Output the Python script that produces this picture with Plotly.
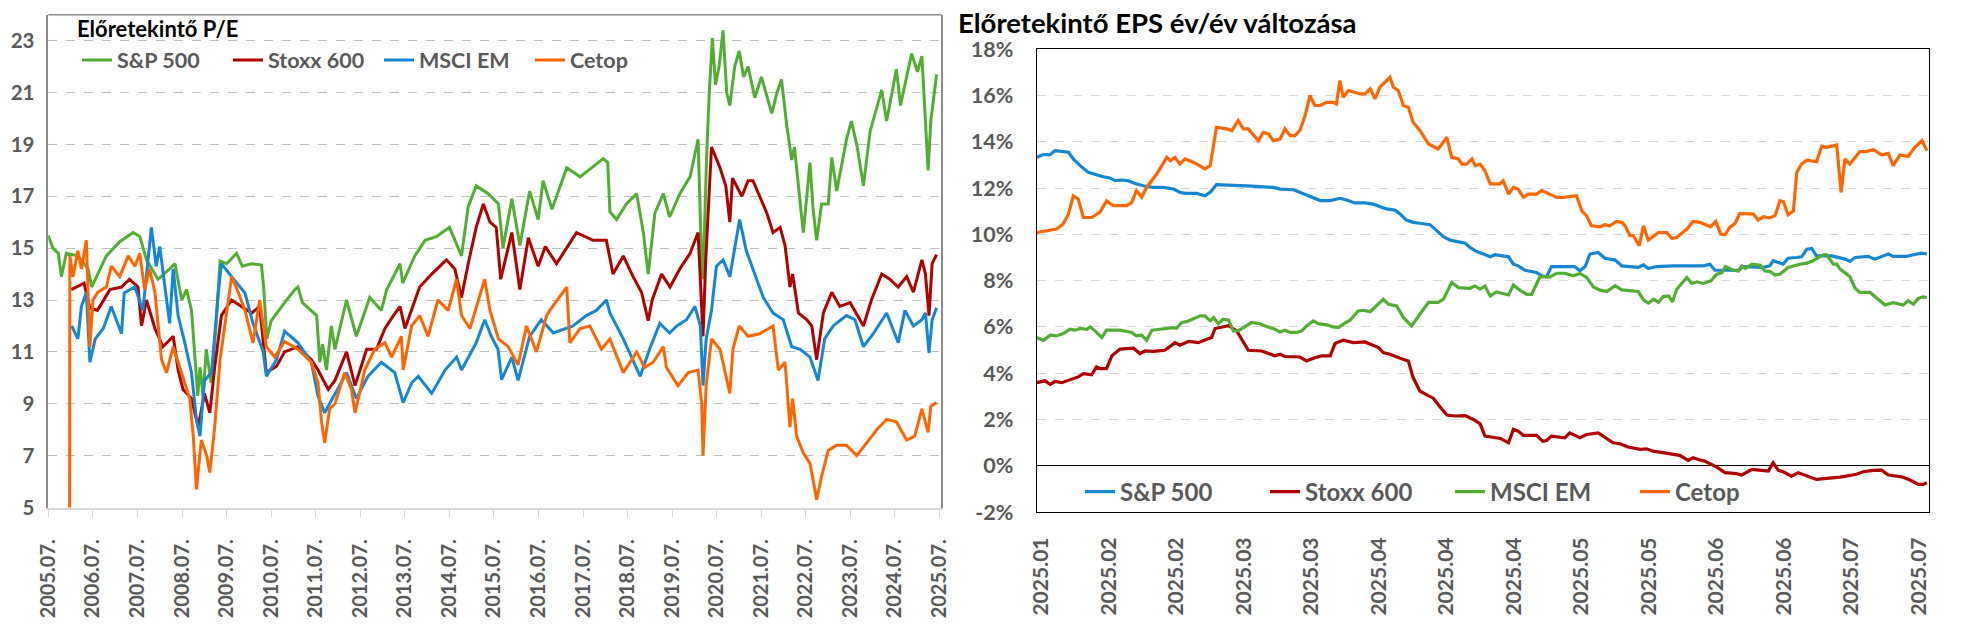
import plotly.graph_objects as go
from datetime import datetime, timedelta

# ---------------- Left chart: forward P/E (x = decimal year) ----------------
sp_pe_t = [2005.49, 2005.60, 2005.72, 2005.79, 2005.90, 2006.16, 2006.39, 2006.47, 2006.80, 2007.10, 2007.40, 2007.55,
           2007.70, 2007.96, 2008.22, 2008.34, 2008.49, 2008.60, 2008.71, 2008.78, 2008.85, 2008.90, 2008.97, 2009.04,
           2009.15, 2009.26, 2009.35, 2009.50, 2009.72, 2009.85, 2010.05, 2010.28, 2010.33, 2010.40, 2010.50, 2010.80,
           2011.03, 2011.10, 2011.20, 2011.52, 2011.59, 2011.65, 2011.74, 2011.85, 2011.93, 2012.19, 2012.41, 2012.71,
           2012.97, 2013.09, 2013.39, 2013.45, 2013.72, 2013.95, 2014.21, 2014.50, 2014.77, 2014.92, 2015.10, 2015.37,
           2015.60, 2015.70, 2015.90, 2016.08, 2016.30, 2016.49, 2016.60, 2016.80, 2017.13, 2017.43, 2017.95, 2018.05,
           2018.10, 2018.25, 2018.47, 2018.70, 2018.85, 2018.96, 2019.11, 2019.30, 2019.44, 2019.67, 2019.90, 2020.08,
           2020.16, 2020.19, 2020.27, 2020.33, 2020.40, 2020.47, 2020.55, 2020.64, 2020.72, 2020.79, 2020.90, 2021.00,
           2021.10, 2021.20, 2021.35, 2021.50, 2021.62, 2021.73, 2021.85, 2021.95, 2022.07, 2022.18, 2022.24, 2022.38,
           2022.44, 2022.59, 2022.66, 2022.74, 2022.85, 2023.00, 2023.08, 2023.19, 2023.41, 2023.52, 2023.65, 2023.79,
           2023.94, 2024.20, 2024.31, 2024.53, 2024.62, 2024.87, 2025.00, 2025.10, 2025.24, 2025.30, 2025.43]
sp_pe_v = [15.5, 15.0, 14.8, 13.9, 14.8, 14.7, 14.2, 13.5, 14.7, 15.25, 15.6, 15.45,
           14.55, 13.8, 14.2, 14.4, 13.0, 13.4, 12.6, 11.0, 9.3, 10.4, 9.3, 11.1,
           9.8, 12.0, 14.5, 14.4, 14.8, 14.3, 14.4, 14.35, 13.5, 11.5, 12.2, 12.9,
           13.4, 13.5, 12.9, 12.4, 10.6, 11.3, 10.3, 12.0, 11.1, 13.0, 11.6, 13.1,
           12.6, 13.4, 14.4, 13.65, 14.7, 15.3, 15.45, 15.8, 14.7, 16.6, 17.4, 17.1,
           16.7, 15.0, 16.9, 15.1, 17.2, 16.1, 17.6, 16.5, 18.1, 17.75, 18.45, 18.3,
           16.4, 16.1, 16.7, 17.1, 15.6, 14.0, 16.35, 17.1, 16.2, 17.1, 17.75, 19.2,
           14.3, 13.8, 18.5, 21.0, 23.1, 21.3, 22.0, 23.4, 21.0, 20.5, 22.0, 22.6,
           21.6, 22.0, 20.8, 21.6, 20.9, 20.2, 21.0, 21.5, 19.7, 18.4, 18.9, 16.6,
           15.6, 18.3, 16.5, 15.3, 16.7, 16.7, 18.5, 17.2, 19.2, 19.9, 18.9, 17.4,
           19.5, 21.1, 19.9, 21.9, 20.5, 22.5, 21.8, 22.4, 18.0, 19.9, 21.7]

stoxx_pe_t = [2006.01, 2006.30, 2006.43, 2006.60, 2006.88, 2007.14, 2007.32, 2007.51, 2007.59, 2007.70, 2007.89, 2008.07,
              2008.30, 2008.41, 2008.52, 2008.71, 2008.86, 2009.00, 2009.12, 2009.23, 2009.38, 2009.61, 2009.83, 2010.06,
              2010.24, 2010.39, 2010.62, 2010.80, 2011.10, 2011.40, 2011.55, 2011.78, 2011.93, 2012.19, 2012.38, 2012.64,
              2012.86, 2013.05, 2013.24, 2013.39, 2013.50, 2013.65, 2013.83, 2014.10, 2014.43, 2014.62, 2014.77, 2014.92,
              2015.10, 2015.26, 2015.41, 2015.55, 2015.65, 2015.90, 2016.08, 2016.27, 2016.49, 2016.65, 2016.90, 2017.35,
              2017.72, 2018.02, 2018.17, 2018.40, 2018.62, 2018.81, 2018.96, 2019.05, 2019.26, 2019.45, 2019.67, 2019.90,
              2020.08, 2020.19, 2020.25, 2020.38, 2020.57, 2020.70, 2020.79, 2020.85, 2021.06, 2021.20, 2021.31, 2021.46,
              2021.62, 2021.76, 2021.92, 2022.03, 2022.14, 2022.20, 2022.33, 2022.52, 2022.63, 2022.74, 2022.89, 2023.08,
              2023.26, 2023.49, 2023.79, 2023.97, 2024.20, 2024.38, 2024.57, 2024.76, 2024.91, 2025.10, 2025.18, 2025.26,
              2025.33, 2025.43]
stoxx_pe_v = [13.4, 13.65, 12.7, 12.6, 13.4, 13.5, 13.8, 13.5, 12.0, 13.0, 11.9, 11.2,
              11.6, 10.3, 9.55, 9.2, 8.1, 9.4, 8.65, 10.4, 12.4, 13.0, 12.75, 12.5,
              12.75, 10.2, 10.45, 11.0, 11.2, 10.7, 10.3, 9.55, 9.9, 11.0, 9.7, 11.1,
              11.1, 11.9, 12.4, 12.75, 11.9, 12.6, 13.5, 14.0, 14.55, 14.2, 13.1, 14.4,
              15.8, 16.7, 16.0, 15.8, 13.8, 15.6, 13.4, 15.4, 14.3, 15.06, 14.4, 15.6,
              15.3, 15.3, 14.0, 14.7, 13.9, 13.3, 12.2, 13.0, 14.0, 13.5, 14.2, 14.8,
              15.6, 11.6, 14.5, 18.9, 18.1, 17.4, 16.0, 17.7, 17.0, 17.6, 17.6, 17.0,
              16.35, 15.6, 15.8, 15.1, 13.5, 14.0, 12.5, 12.24, 12.0, 10.7, 12.5, 13.3,
              12.75, 12.9, 12.0, 13.0, 14.0, 13.8, 13.5, 13.9, 13.3, 14.55, 14.0, 12.4,
              14.4, 14.75]

em_pe_t = [2006.02, 2006.16, 2006.24, 2006.35, 2006.43, 2006.55, 2006.73, 2006.91, 2007.14, 2007.20, 2007.44, 2007.62,
           2007.81, 2007.92, 2008.00, 2008.11, 2008.22, 2008.30, 2008.41, 2008.56, 2008.71, 2008.82, 2008.90, 2009.00,
           2009.16, 2009.31, 2009.38, 2009.61, 2009.91, 2010.09, 2010.32, 2010.39, 2010.62, 2010.80, 2011.10, 2011.40,
           2011.55, 2011.70, 2011.93, 2012.19, 2012.41, 2012.67, 2012.97, 2013.27, 2013.46, 2013.65, 2013.80, 2014.10,
           2014.40, 2014.66, 2014.77, 2014.92, 2015.10, 2015.29, 2015.44, 2015.59, 2015.67, 2015.90, 2016.04, 2016.30,
           2016.56, 2016.83, 2017.27, 2017.57, 2017.80, 2018.02, 2018.10, 2018.40, 2018.78, 2018.99, 2019.22, 2019.44,
           2019.60, 2019.82, 2020.01, 2020.13, 2020.19, 2020.26, 2020.38, 2020.49, 2020.64, 2020.79, 2021.01, 2021.16,
           2021.35, 2021.54, 2021.76, 2021.99, 2022.18, 2022.37, 2022.59, 2022.77, 2022.92, 2023.11, 2023.41, 2023.60,
           2023.79, 2024.01, 2024.31, 2024.57, 2024.72, 2024.91, 2025.10, 2025.18, 2025.26, 2025.33, 2025.43]
em_pe_v = [12.0, 11.5, 12.75, 13.3, 10.6, 11.5, 11.9, 12.75, 11.7, 13.27, 13.5, 12.6,
           15.8, 14.3, 15.06, 13.5, 12.1, 14.2, 12.4, 11.35, 10.2, 8.4, 7.75, 9.9,
           10.2, 13.27, 14.4, 13.9, 13.27, 12.1, 11.0, 10.06, 10.7, 11.8, 11.35, 10.6,
           9.3, 8.65, 9.4, 10.2, 9.2, 10.06, 10.6, 10.2, 9.04, 9.8, 10.06, 9.4,
           10.3, 10.8, 10.3, 10.8, 11.35, 12.24, 11.6, 11.1, 9.93, 10.8, 9.9, 11.6,
           12.24, 11.73, 12.0, 12.4, 12.6, 13.0, 12.5, 11.5, 10.06, 11.1, 12.1, 11.73,
           12.0, 12.24, 12.75, 12.0, 9.7, 11.5, 12.6, 14.3, 14.55, 13.9, 16.1, 14.9,
           14.0, 13.1, 12.5, 12.24, 11.2, 11.1, 10.8, 9.9, 11.5, 12.0, 12.4, 12.24,
           11.2, 11.7, 12.5, 11.35, 12.6, 12.0, 12.24, 12.5, 10.96, 12.24, 12.7]

cetop_pe_t = [2005.97, 2005.98, 2006.05, 2006.16, 2006.24, 2006.35, 2006.43, 2006.50, 2006.61, 2006.80, 2006.91, 2007.10,
              2007.29, 2007.44, 2007.55, 2007.66, 2007.77, 2007.89, 2008.04, 2008.15, 2008.30, 2008.49, 2008.67, 2008.75,
              2008.82, 2008.93, 2009.05, 2009.12, 2009.23, 2009.35, 2009.50, 2009.61, 2009.76, 2009.91, 2010.09, 2010.24,
              2010.39, 2010.58, 2010.80, 2011.10, 2011.40, 2011.55, 2011.63, 2011.70, 2011.81, 2011.93, 2012.15, 2012.30,
              2012.38, 2012.60, 2012.82, 2013.05, 2013.20, 2013.42, 2013.46, 2013.65, 2013.83, 2014.02, 2014.24, 2014.47,
              2014.66, 2014.77, 2014.96, 2015.14, 2015.29, 2015.41, 2015.60, 2015.82, 2016.04, 2016.23, 2016.45, 2016.68,
              2016.75, 2017.13, 2017.20, 2017.43, 2017.65, 2017.91, 2018.10, 2018.40, 2018.70, 2018.88, 2019.07, 2019.30,
              2019.37, 2019.63, 2019.86, 2020.08, 2020.16, 2020.19, 2020.26, 2020.38, 2020.57, 2020.79, 2020.86, 2021.00,
              2021.20, 2021.46, 2021.76, 2021.88, 2022.03, 2022.14, 2022.20, 2022.29, 2022.44, 2022.59, 2022.74, 2022.85,
              2023.00, 2023.19, 2023.41, 2023.64, 2023.86, 2024.09, 2024.31, 2024.53, 2024.76, 2024.94, 2025.10, 2025.24,
              2025.30, 2025.43]
cetop_pe_v = [0.0, 14.7, 13.9, 14.9, 14.2, 15.3, 11.2, 13.0, 13.3, 13.5, 14.3, 13.9,
              14.7, 14.3, 14.8, 13.4, 14.2, 13.3, 10.7, 10.2, 11.2, 10.2, 9.2, 7.75,
              5.7, 7.6, 7.0, 6.35, 8.1, 10.7, 12.6, 13.9, 13.3, 12.6, 11.35, 13.0,
              11.2, 10.8, 11.4, 11.1, 10.6, 9.8, 8.3, 7.5, 8.8, 9.0, 10.2, 9.55,
              8.65, 10.3, 11.1, 11.35, 10.8, 11.6, 10.3, 12.0, 12.4, 11.6, 13.0, 12.6,
              13.8, 12.4, 11.9, 12.9, 13.8, 12.6, 11.5, 11.2, 10.5, 12.0, 11.0, 12.4,
              12.6, 13.5, 11.35, 11.9, 12.0, 11.1, 11.5, 10.2, 11.0, 10.4, 10.6, 11.2,
              10.4, 9.7, 10.2, 10.3, 9.0, 7.0, 9.7, 11.5, 11.1, 9.4, 11.1, 12.0,
              11.6, 11.7, 12.0, 10.3, 10.6, 8.1, 9.2, 7.75, 7.1, 6.7, 5.3, 6.2,
              7.2, 7.4, 7.4, 7.0, 7.5, 8.0, 8.4, 8.3, 7.6, 7.75, 8.8, 7.9,
              8.9, 9.05]

pe_ticks = [5, 7, 9, 11, 13, 15, 17, 19, 21, 23]

# ---------------- Right chart: forward EPS y/y change, % (x = day of 2025) ----------------
eps_sp_d = [20, 21.4, 22.8, 23.8, 26.6, 27.6, 29.0, 30.7, 32.4, 33.8, 35.2, 36.3, 37.6, 39.0, 40.4, 42.1, 44.2, 46.3,
            48.4, 49.7, 50.8, 53.2, 54.9, 56.0, 57.3, 61.5, 64.6, 69.1, 70.5, 73.3, 74.6, 76.7, 78.8, 80.9, 82.9, 84.3,
            86.0, 88.1, 89.8, 91.2, 92.6, 94.3, 95.4, 96.7, 98.1, 99.5, 101.6, 103.0, 104.4, 105.8, 107.8, 108.9,
            109.9, 111.3, 112.7, 114.1, 115.1, 116.8, 117.9, 118.9, 119.9, 121.3, 123.7, 124.8, 125.8, 126.8, 131.6,
            132.7, 133.8, 134.8, 136.5, 137.9, 140.0, 141.4, 144.8, 145.9, 146.9, 148.6, 152.1, 158.3, 159.7, 160.7,
            164.5, 165.6, 166.6, 170.7, 172.1, 172.8, 174.9, 175.9, 177.7, 178.7, 179.8, 180.8, 181.8, 185.0, 187.7,
            188.7, 189.8, 192.5, 193.9, 195.0, 196.7, 197.7, 200.5, 201.9, 203.6, 204.7]
eps_sp_v = [13.33, 13.45, 13.45, 13.62, 13.55, 13.26, 12.97, 12.68, 12.58, 12.49, 12.44, 12.32, 12.35, 12.32, 12.2,
            12.1, 12.03, 12.03, 11.96, 11.82, 11.77, 11.77, 11.67, 11.82, 12.15, 12.13, 12.09, 12.03, 11.96, 11.93,
            11.82, 11.67, 11.46, 11.46, 11.56, 11.49, 11.36, 11.36, 11.31, 11.2, 11.1, 11.05, 10.88, 10.62, 10.52,
            10.48, 10.42, 10.16, 9.9, 9.75, 9.65, 9.62, 9.44, 9.26, 9.15, 9.03, 9.12, 9.05, 9.03, 8.71, 8.64, 8.45,
            8.35, 8.21, 8.17, 8.61, 8.61, 8.43, 8.61, 9.15, 9.22, 8.97, 8.89, 8.64, 8.57, 8.68, 8.52, 8.61, 8.64,
            8.64, 8.71, 8.45, 8.47, 8.45, 8.61, 8.57, 8.64, 8.86, 8.71, 8.97, 9.0, 9.03, 9.36, 9.39, 9.07, 9.07,
            8.93, 8.83, 9.0, 9.05, 8.93, 9.03, 9.15, 9.05, 9.05, 9.12, 9.19, 9.15]

eps_stoxx_d = [20, 21.7, 22.8, 23.8, 25.2, 26.2, 27.6, 28.6, 29.7, 31.4, 32.4, 33.1, 34.5, 35.6, 37.3, 40.1, 41.4,
               42.5, 44.2, 46.6, 48.7, 49.7, 51.5, 53.5, 55.3, 56.3, 57.0, 59.8, 61.5, 62.5, 63.9, 66.7, 68.4, 69.4,
               70.5, 71.5, 74.6, 76.0, 77.7, 79.1, 80.9, 81.9, 83.6, 85.7, 88.1, 89.8, 90.9, 91.9, 93.3, 95.4, 97.1,
               98.1, 99.5, 101.3, 102.3, 103.7, 105.1, 106.8, 108.9, 110.6, 112.0, 113.0, 116.2, 117.9, 118.9, 119.9,
               121.0, 123.7, 125.0, 125.8, 126.8, 129.6, 130.6, 132.7, 134.1, 136.5, 137.9, 139.6, 141.0, 142.7,
               145.2, 146.5, 147.9, 151.0, 152.1, 153.4, 155.2, 156.2, 157.6, 158.6, 161.1, 162.8, 165.2, 166.3,
               168.4, 171.8, 172.8, 173.9, 174.9, 176.6, 178.0, 180.1, 181.8, 186.7, 190.1, 191.5, 193.6, 195.3,
               196.7, 199.5, 201.2, 202.9, 203.9, 204.7]
eps_stoxx_v = [3.59, 3.67, 3.52, 3.64, 3.59, 3.67, 3.78, 3.84, 3.98, 3.93, 4.27, 4.2, 4.2, 4.75, 5.04, 5.08, 4.85,
               4.96, 4.94, 4.99, 5.32, 5.21, 5.37, 5.32, 5.47, 5.54, 5.93, 6.05, 5.83, 5.47, 4.99, 4.96, 4.82, 4.75,
               4.82, 4.72, 4.7, 4.53, 4.67, 4.75, 4.75, 5.28, 5.43, 5.32, 5.35, 5.22, 5.11, 4.89, 4.82, 4.65, 4.53,
               3.81, 3.23, 3.02, 2.92, 2.54, 2.19, 2.15, 2.17, 2.0, 1.81, 1.28, 1.18, 0.99, 1.57, 1.49,
               1.31, 1.31, 1.06, 1.09, 1.28, 1.21, 1.42, 1.21, 1.35, 1.42, 1.24, 0.99, 0.95, 0.81,
               0.71, 0.73, 0.63, 0.53, 0.46, 0.45, 0.23, 0.35, 0.25, 0.2, -0.06, -0.3, -0.34, -0.4,
               -0.16, -0.23, 0.13, -0.2, -0.26, -0.45, -0.3, -0.48, -0.59, -0.49, -0.37, -0.26, -0.2, -0.19,
               -0.4, -0.48, -0.62, -0.81, -0.81, -0.74]

eps_em_d = [20, 21.4, 22.8, 24.1, 25.5, 26.9, 28.0, 29.0, 30.4, 31.1, 32.1, 33.5, 34.5, 37.3, 38.7, 39.7, 40.7, 41.8,
            42.8, 43.9, 45.6, 48.4, 49.0, 50.1, 51.1, 52.5, 53.9, 54.9, 56.0, 56.7, 57.7, 58.7, 59.8, 60.8, 61.8,
            62.9, 64.6, 66.3, 67.4, 69.4, 70.5, 71.5, 72.6, 73.9, 75.0, 76.0, 77.4, 78.4, 80.2, 81.5, 82.6, 83.6,
            85.0, 86.7, 87.8, 89.2, 90.5, 91.9, 93.0, 94.7, 96.1, 97.8, 99.5, 101.3, 103.3, 104.4, 106.1, 107.5,
            109.9, 110.9, 112.0, 113.0, 114.1, 115.4, 117.9, 118.9, 120.3, 121.7, 122.7, 124.4, 126.5, 127.9, 129.6,
            131.3, 132.7, 134.1, 135.5, 136.9, 138.3, 140.0, 141.4, 144.8, 145.9, 146.9, 148.0, 149.0, 150.0, 151.1,
            151.9, 152.8, 154.9, 155.9, 157.0, 158.3, 159.9, 161.1, 162.2, 162.9, 164.5, 165.6, 166.3, 167.0, 168.4,
            170.1, 171.1, 172.1, 173.2, 174.2, 175.9, 178.3, 179.8, 181.1, 183.2, 183.9, 185.3, 186.0, 186.7, 188.7,
            189.8, 190.8, 192.9, 196.0, 197.7, 199.8, 200.8, 201.9, 202.9, 203.9, 204.7]
eps_em_v = [5.54, 5.42, 5.64, 5.61, 5.71, 5.9, 5.86, 5.94, 5.9, 6.0, 5.83, 5.54, 5.86, 5.86, 5.8, 5.76, 5.61, 5.64,
            5.42, 5.86, 5.9, 5.97, 5.94, 6.19, 6.23, 6.37, 6.48, 6.48, 6.26, 6.4, 6.14, 6.33, 6.29, 5.83, 5.83,
            5.97, 6.19, 6.14, 6.04, 5.9, 5.78, 5.86, 5.76, 5.76, 5.83, 6.04, 6.26, 6.14, 6.09, 6.0, 5.97, 6.12,
            6.29, 6.69, 6.72, 6.66, 6.91, 7.2, 6.98, 6.91, 6.4, 6.04, 6.55, 7.06, 7.06, 7.2, 7.92, 7.7,
            7.67, 7.77, 7.63, 7.77, 7.34, 7.51, 7.38, 7.81, 7.58, 7.41, 7.41, 8.16, 8.16, 8.32, 8.32,
            8.21, 8.31, 8.14, 7.73, 7.59, 7.53, 7.78, 7.6, 7.53, 7.17, 7.03, 7.2, 7.06, 7.31, 7.34,
            7.08, 7.63, 8.14, 7.88, 7.95, 7.88, 7.99, 8.28, 8.35, 8.61, 8.45, 8.42, 8.64, 8.52, 8.71,
            8.67, 8.42, 8.4, 8.24, 8.28, 8.57, 8.71, 8.76, 8.86, 9.12, 9.12, 8.71, 8.71, 8.5, 8.18,
            7.67, 7.49, 7.49, 6.95, 7.05, 6.95, 7.13, 6.98, 7.23, 7.3, 7.27]

eps_cetop_d = [20, 24.1, 25.5, 26.6, 27.6, 28.6, 29.7, 31.4, 33.1, 34.5, 35.9, 38.7, 39.7, 40.7, 41.8, 42.8, 44.9,
               47.0, 47.7, 48.7, 49.7, 50.8, 52.5, 54.9, 56.0, 57.3, 59.4, 60.5, 61.8, 62.9, 63.9, 66.0, 67.0, 68.1,
               69.1, 70.5, 71.5, 72.6, 73.6, 74.6, 75.7, 76.7, 77.7, 78.8, 80.2, 81.5, 82.2, 82.9, 83.6, 84.7, 87.1,
               88.1, 89.2, 90.2, 91.2, 93.3, 94.0, 95.0, 96.1, 97.1, 98.1, 99.5, 101.3, 103.3, 105.1, 106.1, 107.5,
               108.2, 109.2, 110.3, 111.0, 112.0, 113.0, 114.1, 116.1, 116.8, 117.9, 118.9, 119.9, 121.0, 122.0,
               123.7, 124.8, 127.9, 129.3, 132.0, 133.1, 134.1, 135.1, 136.9, 137.9, 138.9, 140.3, 141.4, 142.1,
               143.1, 143.8, 145.0, 145.9, 146.9, 149.0, 150.7, 151.8, 152.8, 154.9, 156.2, 157.6, 159.8, 160.9,
               161.9, 162.8, 163.8, 164.9, 165.9, 168.7, 169.7, 170.8, 172.1, 173.2, 174.2, 174.9, 175.9, 177.0,
               177.7, 178.7, 179.8, 181.8, 182.9, 183.9, 186.0, 186.9, 187.7, 188.7, 190.8, 192.2, 193.6, 195.3,
               196.7, 197.7, 199.1, 200.8, 202.2, 203.7, 204.7]
eps_cetop_v = [10.08, 10.23, 10.45, 10.88, 11.67, 11.53, 10.73, 10.73, 10.95, 11.45, 11.24, 11.24, 11.38, 11.89,
               11.6, 12.03, 12.61, 13.33, 13.19, 13.33, 13.04, 13.26, 13.12, 12.83, 12.97, 14.63, 14.56, 14.49,
               14.92, 14.56, 14.56, 14.05, 14.41, 14.34, 14.05, 14.12, 14.56, 14.27, 14.27, 14.49, 15.14, 16.0,
               15.57, 15.57, 15.71, 15.71, 15.64, 16.65, 15.93, 16.22, 16.07, 16.07, 16.29, 15.86, 16.36, 16.79,
               16.36, 16.22, 15.57, 15.5, 14.85, 14.49, 13.91, 13.69, 14.2, 13.33, 13.26, 13.04, 13.04, 13.26,
               12.97, 13.04, 12.75, 12.18, 12.18, 12.32, 11.74, 12.03, 11.96, 11.6, 11.74, 11.74, 11.89, 11.6,
               11.6, 11.67, 11.02, 10.8, 10.37, 10.33, 10.42, 10.37, 10.56, 10.52, 10.37, 9.94, 9.94, 9.51,
               10.37, 9.75, 10.08, 10.08, 9.82, 9.87, 10.23, 10.56, 10.52, 10.33, 10.56, 10.01, 9.98, 10.3,
               10.47, 10.91, 10.88, 10.62, 10.76, 10.71, 10.81, 11.45, 11.42, 10.85, 11.02, 12.68, 13.04, 13.21,
               13.14, 13.81, 13.76, 13.86, 11.82, 13.26, 13.04, 13.58, 13.59, 13.66, 13.44, 13.5, 12.97, 13.43,
               13.37, 13.76, 14.05, 13.62]

eps_ticks = [-2, 0, 2, 4, 6, 8, 10, 12, 14, 16, 18]
eps_tick_labels = [f"{v}%" for v in eps_ticks]

series_names = ["S&P 500", "Stoxx 600", "MSCI EM", "Cetop"]


def dec_year(t):
    y = int(t)
    a = datetime(y, 1, 1)
    b = datetime(y + 1, 1, 1)
    return a + (b - a) * (t - y)


def day_2025(d):
    return datetime(2025, 1, 1) + timedelta(days=d - 1)


W, H = 1967, 635
FONT = "Lato, 'Open Sans', 'DejaVu Sans', sans-serif"
GRAYTXT = "#595959"

GREEN, RED, BLUE, ORANGE = "#52AE32", "#B00000", "#1487D4", "#FF6600"

fig = go.Figure()

left = [(sp_pe_t, sp_pe_v, GREEN), (stoxx_pe_t, stoxx_pe_v, RED),
        (em_pe_t, em_pe_v, BLUE), (cetop_pe_t, cetop_pe_v, ORANGE)]
for name, (t, v, col) in zip(series_names, left):
    assert len(t) == len(v), (name, len(t), len(v))
    fig.add_trace(go.Scatter(x=[dec_year(a) for a in t], y=v, mode="lines", name=name,
                             line=dict(color=col, width=3), xaxis="x", yaxis="y", legend="legend"))

right = [(eps_sp_d, eps_sp_v, BLUE), (eps_stoxx_d, eps_stoxx_v, RED),
         (eps_em_d, eps_em_v, GREEN), (eps_cetop_d, eps_cetop_v, ORANGE)]
for name, (d, v, col) in zip(series_names, right):
    assert len(d) == len(v), (name, len(d), len(v))
    fig.add_trace(go.Scatter(x=[day_2025(a) for a in d], y=v, mode="lines", name=name,
                             line=dict(color=col, width=3.2), xaxis="x2", yaxis="y2", legend="legend2"))

# plot-area geometry (pixels)
L_x0, L_x1, L_y0, L_y1 = 48.3, 941.3, 14.7, 507.5
R_x0, R_x1, R_y0, R_y1 = 1036.7, 1929.3, 49.3, 512.0

fig.update_layout(
    template="none",
    width=W, height=H, autosize=False,
    margin=dict(l=0, r=0, t=0, b=0, pad=0, autoexpand=False),
    paper_bgcolor="white", plot_bgcolor="white",
    font=dict(family=FONT, color=GRAYTXT),
    showlegend=True,
    xaxis=dict(domain=[L_x0 / W, L_x1 / W], anchor="y", type="date", automargin=False,
               range=[dec_year(2005.496), dec_year(2025.536)],
               tick0="2005-07-01", dtick="M12", tickformat="%Y.%m.", tickangle=-90,
               ticks="outside", ticklen=8, tickcolor="#d9d9d9", tickwidth=1,
               showline=True, linecolor="#d9d9d9", linewidth=1.5, showgrid=False, zeroline=False,
               ticklabelstandoff=14,
               tickfont=dict(family=FONT, size=20, color=GRAYTXT, weight="bold")),
    yaxis=dict(domain=[1 - L_y1 / H, 1 - L_y0 / H], anchor="x", range=[5, 24], automargin=False,
               tickmode="array", tickvals=pe_ticks,
               showgrid=True, gridcolor="#c0c0c0", griddash="dash", gridwidth=1,
               showline=True, mirror=True, linecolor="#8c8c8c", linewidth=1.5,
               zeroline=False, ticks="", ticklabelstandoff=8,
               tickfont=dict(family=FONT, size=20.5, color=GRAYTXT, weight="bold")),
    xaxis2=dict(domain=[R_x0 / W, R_x1 / W], anchor="y2", type="date", automargin=False,
                range=[day_2025(20), day_2025(205.2)],
                tick0="2025-01-21", dtick=14 * 86400000, tickformat="%Y.%m", tickangle=-90,
                ticks="", showline=True, mirror=True, linecolor="black", linewidth=1.2,
                showgrid=False, zeroline=False, ticklabelstandoff=16,
                tickfont=dict(family=FONT, size=21, color=GRAYTXT, weight="bold")),
    yaxis2=dict(domain=[1 - R_y1 / H, 1 - R_y0 / H], anchor="x2", range=[-2, 18], automargin=False,
                tickmode="array", tickvals=eps_ticks, ticktext=eps_tick_labels,
                showgrid=True, gridcolor="#d9d9d9", griddash="dash", gridwidth=1,
                zeroline=True, zerolinecolor="black", zerolinewidth=1.2,
                showline=True, mirror=True, linecolor="black", linewidth=1.2,
                ticks="", ticklabelstandoff=18,
                tickfont=dict(family=FONT, size=21.5, color=GRAYTXT, weight="bold")),
    legend=dict(orientation="h", x=77 / W, y=1 - 60 / H, xanchor="left", yanchor="middle",
                bgcolor="rgba(0,0,0,0)", borderwidth=0, itemwidth=30, entrywidth=106,
                font=dict(family=FONT, size=21.5, color=GRAYTXT, weight="bold")),
    legend2=dict(orientation="h", x=1080 / W, y=1 - 492 / H, xanchor="left", yanchor="middle",
                 bgcolor="rgba(0,0,0,0)", borderwidth=0, itemwidth=30, entrywidth=140,
                 font=dict(family=FONT, size=24, color=GRAYTXT, weight="bold")),
    shapes=[dict(type="line", xref="x domain", yref="y domain", x0=0, x1=1, y0=1, y1=1,
                 line=dict(color="#8c8c8c", width=1.5))],
    annotations=[
        dict(text="Előretekintő P/E", x=75 / W, y=1 - 28 / H, xref="paper", yref="paper",
             xanchor="left", yanchor="middle", showarrow=False,
             font=dict(family=FONT, size=22, color="black", weight="bold")),
        dict(text="Előretekintő EPS év/év változása", x=956 / W, y=1 - 23 / H, xref="paper", yref="paper",
             xanchor="left", yanchor="middle", showarrow=False,
             font=dict(family=FONT, size=27.5, color="black", weight="bold")),
    ],
)

fig.write_html("out.html")
